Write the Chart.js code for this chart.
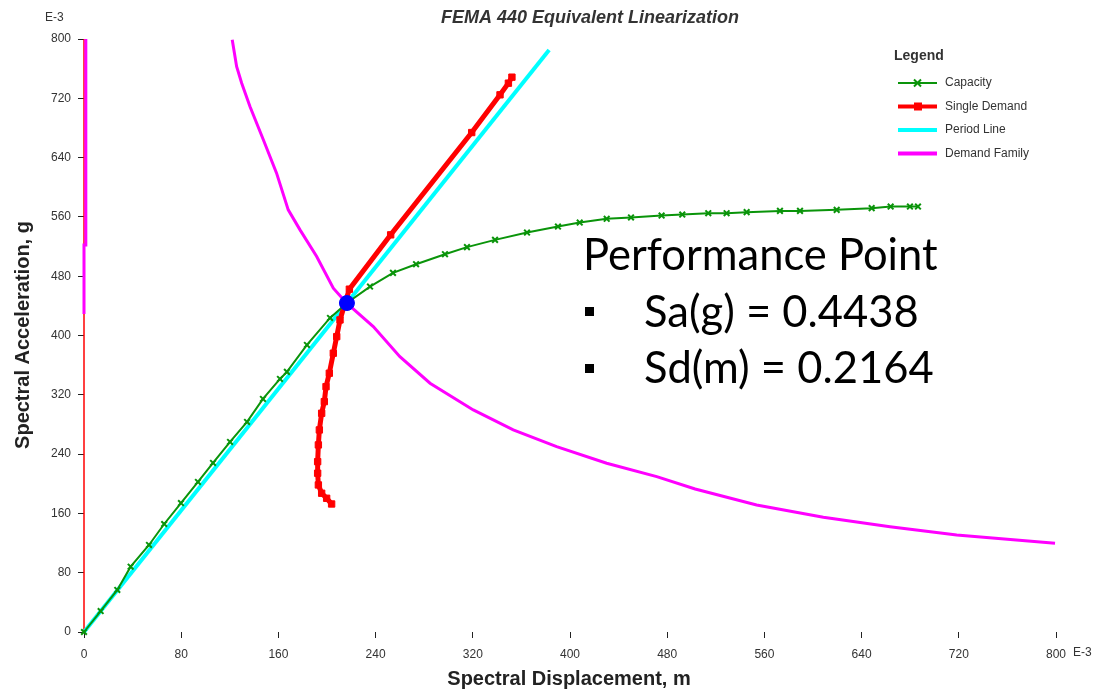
<!DOCTYPE html>
<html>
<head>
<meta charset="utf-8">
<script src="https://cdn.jsdelivr.net/npm/chart.js@4/dist/chart.umd.min.js"></script>
<style>
  html, body { margin: 0; padding: 0; background: #fff; }
</style>
</head>
<body>
<canvas id="chart" width="1101" height="691"></canvas>
<script>
// values are in E-3 (m for Sd, g for Sa)
const capacitySd = [0, 13.7, 27.4, 38.4, 53.5, 66, 79.8, 93.8, 106.2, 120.2, 134.2, 147.3, 161.3, 167, 183.5, 202.5, 216.4,
  235.4, 254.3, 273.3, 297.1, 315.2, 338.3, 364.6, 390.1, 408, 430.2, 450.2, 475.4, 492.4, 513.8, 528.9, 545.4,
  572.8, 589.3, 619.5, 648.3, 663.9, 679.8, 686.4];
const capacitySa = [0, 28.3, 56.7, 88.1, 117.4, 145.7, 174, 202.4, 228, 256.4, 283.4, 314.4, 341.4, 350.9, 387.3, 423.7, 443.8,
  466, 484.5, 496.2, 509.7, 519.2, 529, 538.9, 547, 552.4, 557.4, 559.2, 561.8, 563.2, 565, 565, 566.4,
  568.1, 568.1, 569.5, 571.8, 574, 574, 574];

const singleSd = [203.8, 199.7, 195.6, 192.9, 192.3, 192.3, 192.9, 193.7, 195.6, 197.8, 199.2, 201.9, 205.2, 208, 210.7, 214,
  218.4, 252.4, 319.1, 342.4, 349.3, 352.2];
const singleSa = [172.7, 180.4, 187.2, 198.4, 214.2, 229.8, 252.4, 272.6, 295.1, 310.8, 331, 349.1, 376.1, 398.5, 421, 439,
  462.5, 535.8, 673.8, 724.7, 740.4, 748.5];

const periodSd = [0, 382.8];
const periodSa = [0, 785];

const familySd = [122, 125.6, 129.8, 136.6, 147.6, 158.5, 168.1, 177.8, 191.5, 205.2, 216.2, 238.1, 260, 284.8, 320.4,
  353.3, 389, 430.2, 471.4, 503, 553.6, 608.5, 663.4, 718.3, 799.2];
const familySa = [799, 763, 740.4, 709, 664, 619, 569.5, 542.5, 506.5, 463.8, 443.6, 412, 371.5, 335.6, 299.6,
  272.6, 250, 227.6, 209.6, 193, 171.4, 154.8, 142.1, 130.9, 119.7];

// short pieces along Sd = 0
const edgeRedSd = [0, 0];
const edgeRedSa = [0, 800];
const edgeFamilySd = [0, 0, 1.5, 1.5];
const edgeFamilySa = [429, 522, 522, 800];

const perfSd = [216.4];
const perfSa = [443.8];

const xTicks = [0, 80, 160, 240, 320, 400, 480, 560, 640, 720, 800];
const yTicks = [0, 80, 160, 240, 320, 400, 480, 560, 640, 720, 800];

const legendNames = ['Capacity', 'Single Demand', 'Period Line', 'Demand Family'];
const perfLines = ['Performance Point', 'Sa(g) = 0.4438', 'Sd(m) = 0.2164'];

function pts(xs, ys) {
  return xs.map((x, i) => ({ x: x, y: ys[i] }));
}

const GREEN = '#0a940a';
const RED = '#ff0000';
const CYAN = '#00ffff';
const MAGENTA = '#ff00ff';

const datasets = [
  { label: 'PP', data: pts(perfSd, perfSa), showLine: false, pointRadius: 7.5, pointBackgroundColor: '#0000ff',
    pointBorderColor: '#0000ff', pointBorderWidth: 1 },
  { label: 'Capacity', data: pts(capacitySd, capacitySa), showLine: true, borderColor: GREEN, borderWidth: 2,
    pointStyle: 'crossRot', pointRadius: 4, pointBorderColor: GREEN, pointBorderWidth: 2, pointBackgroundColor: GREEN },
  { label: 'Single Demand', data: pts(singleSd, singleSa), showLine: true, borderColor: RED, borderWidth: 5,
    pointStyle: 'rect', pointRadius: 4.5, pointBorderColor: RED, pointBackgroundColor: RED, pointBorderWidth: 1 },
  { label: 'Demand Family', data: pts(familySd, familySa), showLine: true, borderColor: MAGENTA, borderWidth: 3,
    pointRadius: 0 },
  { label: 'Period Line', data: pts(periodSd, periodSa), showLine: true, borderColor: CYAN, borderWidth: 4,
    pointRadius: 0 },
  { label: 'edgeFamily', data: pts(edgeFamilySd, edgeFamilySa), showLine: true, borderColor: MAGENTA, borderWidth: 3,
    pointRadius: 0 },
  { label: 'edgeRed', data: pts(edgeRedSd, edgeRedSa), showLine: true, borderColor: RED, borderWidth: 1.5,
    pointRadius: 0 }
];
datasets.forEach(d => { d.clip = false; d.tension = 0; });

const textPlugin = {
  id: 'texts',
  afterDraw(chart) {
    const ctx = chart.ctx;
    const a = chart.chartArea;
    ctx.save();

    // title
    ctx.fillStyle = '#333';
    ctx.textAlign = 'center';
    ctx.textBaseline = 'middle';
    ctx.font = 'italic bold 18px "Liberation Sans", Arial, sans-serif';
    ctx.fillText('FEMA 440 Equivalent Linearization', 590, 18);

    // axis titles
    ctx.fillStyle = '#222';
    ctx.font = 'bold 20px "Liberation Sans", Arial, sans-serif';
    ctx.fillText('Spectral Displacement, m', 569, 679);
    ctx.save();
    ctx.translate(23, 335);
    ctx.rotate(-Math.PI / 2);
    ctx.fillText('Spectral Acceleration, g', 0, 0);
    ctx.restore();

    // exponent labels
    ctx.font = '12px "Liberation Sans", Arial, sans-serif';
    ctx.fillStyle = '#333';
    ctx.textAlign = 'left';
    ctx.fillText('E-3', 45, 18);
    ctx.fillText('E-3', a.right + 17, 653);

    // legend
    ctx.fillStyle = '#333';
    ctx.font = 'bold 14px "Liberation Sans", Arial, sans-serif';
    ctx.fillText('Legend', 894, 56);
    ctx.font = '12px "Liberation Sans", Arial, sans-serif';
    legendNames.forEach((name, i) => {
      const ds = chart.data.datasets.find(d => d.label === name);
      const y = 83 + i * 23.5;
      ctx.strokeStyle = ds.borderColor;
      ctx.lineWidth = name === 'Capacity' ? 2 : 4;
      ctx.beginPath();
      ctx.moveTo(898, y);
      ctx.lineTo(937, y);
      ctx.stroke();
      if (name === 'Capacity') {
        ctx.lineWidth = 2;
        ctx.beginPath();
        ctx.moveTo(914, y - 3.5); ctx.lineTo(921, y + 3.5);
        ctx.moveTo(921, y - 3.5); ctx.lineTo(914, y + 3.5);
        ctx.stroke();
      } else if (name === 'Single Demand') {
        ctx.fillStyle = ds.borderColor;
        ctx.fillRect(914, y - 4, 8, 8);
      }
      ctx.fillStyle = '#333';
      ctx.fillText(name, 945, y);
    });

    // performance point annotation
    ctx.fillStyle = '#000';
    ctx.textBaseline = 'alphabetic';
    ctx.font = '43.5px Lato, "Noto Sans", sans-serif';
    ctx.fillText(perfLines[0], 583, 270);
    ctx.fillText(perfLines[1], 644, 327);
    ctx.fillText(perfLines[2], 644, 383);
    ctx.fillRect(585, 307, 9, 9);
    ctx.fillRect(585, 364, 9, 9);

    ctx.restore();
  }
};

const tickFont = { family: '"Liberation Sans", Arial, sans-serif', size: 12 };

new Chart(document.getElementById('chart').getContext('2d'), {
  type: 'scatter',
  data: { datasets: datasets },
  options: {
    responsive: false,
    animation: false,
    events: [],
    layout: { padding: { left: 0, right: 45, top: 39, bottom: 0 } },
    plugins: { legend: { display: false }, tooltip: { enabled: false } },
    scales: {
      x: {
        type: 'linear', min: 0, max: 800,
        afterFit: s => { s.height = 59; },
        afterBuildTicks: s => { s.ticks = xTicks.map(v => ({ value: v })); },
        border: { display: false },
        grid: { drawOnChartArea: false, drawTicks: true, tickLength: 6, color: '#222' },
        ticks: { font: tickFont, color: '#333', padding: 9, maxRotation: 0 }
      },
      y: {
        type: 'linear', min: 0, max: 800,
        afterFit: s => { s.width = 84; },
        afterBuildTicks: s => { s.ticks = yTicks.map(v => ({ value: v })); },
        border: { display: false },
        grid: { drawOnChartArea: false, drawTicks: true, tickLength: 6, color: '#222' },
        ticks: { font: tickFont, color: '#333', padding: 7 }
      }
    }
  },
  plugins: [textPlugin]
});
</script>
</body>
</html>
